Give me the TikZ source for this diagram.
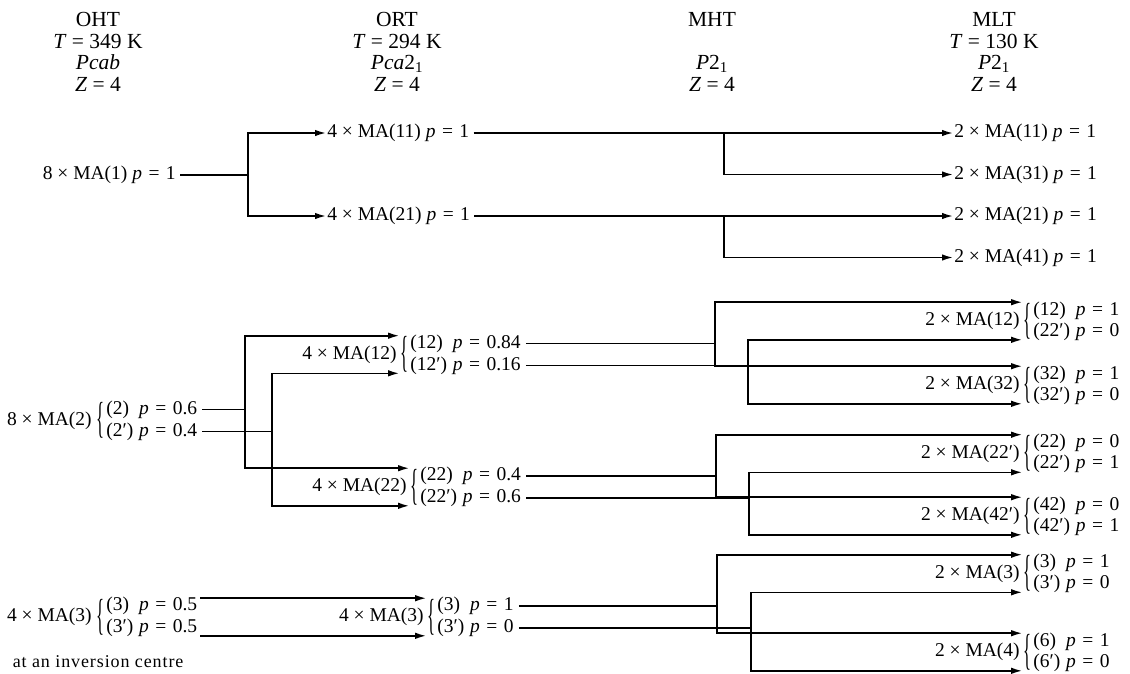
\documentclass[tikz,border=0pt]{standalone}
\usepackage{fontspec}
\setmainfont{Liberation Serif}
\usepackage{graphicx}
\usetikzlibrary{arrows.meta}

% p = value, with the wider spacing round the sign
\newcommand{\pe}[1]{\textit{p}\hspace{0.33em}=\hspace{0.33em}#1}
% one line of a split site: name, width of the longer name, probability
\newcommand{\rw}[3]{\rlap{#1}\phantom{#2}\hspace{0.3em}\pe{#3}}
% the curly bracket in front of two lines
\newcommand{\brc}{\resizebox*{8pt}{36pt}{\{}}

\begin{document}
\begin{tikzpicture}[x=1pt,y=-1pt,line width=1.6pt,
	lbl/.style={inner sep=0.5pt,text height=14pt,text depth=4.5pt,font=\fontsize{19.5}{22}\selectfont},
	hdr/.style={align=center,inner sep=0pt,font=\fontsize{21.5}{21.5}\selectfont},
	br/.style={inner sep=0pt,font=\fontsize{19.5}{22}\selectfont},
	arr/.style={-{Latex[length=11pt,width=6.5pt]}}]
	\useasboundingbox (0,0) rectangle (1130,673);

	% phases
	\node[hdr] (oht) at (98,52) {OHT\\\textit{T} = 349 K\\\textit{Pcab}\\\textit{Z} = 4};
	\node[hdr] (ort) at (397,52) {ORT\\\textit{T} = 294 K\\\textit{Pca}2\textsubscript{1}\\\textit{Z} = 4};
	\node[hdr] (mht) at (712,52) {MHT\\\mbox{}\\\textit{P}2\textsubscript{1}\\\textit{Z} = 4};
	\node[hdr] (mlt) at (994,52) {MLT\\\textit{T} = 130 K\\\textit{P}2\textsubscript{1}\\\textit{Z} = 4};

	% MA(1)
	\node[lbl,anchor=east] (ma1) at (177,175) {8 × MA(1) \pe{1}};
	\node[lbl,anchor=west] (ma11) at (326,133) {4 × MA(11) \pe{1}};
	\node[lbl,anchor=west] (ma21) at (326,216) {4 × MA(21) \pe{1}};
	\node[lbl,anchor=west] (mlt11) at (953,133) {2 × MA(11) \pe{1}};
	\node[lbl,anchor=west] (mlt31) at (953,174.5) {2 × MA(31) \pe{1}};
	\node[lbl,anchor=west] (mlt21) at (953,216) {2 × MA(21) \pe{1}};
	\node[lbl,anchor=west] (mlt41) at (953,257.5) {2 × MA(41) \pe{1}};
	\coordinate (s1) at (248,175);
	\coordinate (s11) at (724,133);
	\coordinate (s21) at (724,216);
	\draw[shorten <=3pt] (ma1) -- (s1);
	\draw[arr] (s1) |- (ma11);
	\draw[arr] (s1) |- (ma21);
	\draw[arr,shorten <=3pt] (ma11) -- (mlt11);
	\draw[arr] (s11) |- (mlt31);
	\draw[arr,shorten <=3pt] (ma21) -- (mlt21);
	\draw[arr] (s21) |- (mlt41);

	% MA(2)
	\node[lbl,anchor=east] (ma2) at (93,420.5) {8 × MA(2)};
	\node[br] (b2) at (100,420.5) {\brc};
	\node[lbl,anchor=west] (r2) at (105,409.5) {\rw{(2)}{(2′)}{0.6}};
	\node[lbl,anchor=west] (r2p) at (105,431.5) {\rw{(2′)}{(2′)}{0.4}};

	\node[lbl,anchor=east] (o12) at (398,354.5) {4 × MA(12)};
	\node[br] (bo12) at (404,354.5) {\brc};
	\node[lbl,anchor=west] (ro12) at (409,343.5) {\rw{(12)}{(12′)}{0.84}};
	\node[lbl,anchor=west] (ro12p) at (409,365.5) {\rw{(12′)}{(12′)}{0.16}};

	\node[lbl,anchor=east] (o22) at (408,487) {4 × MA(22)};
	\node[br] (bo22) at (414,487) {\brc};
	\node[lbl,anchor=west] (ro22) at (419,476) {\rw{(22)}{(22′)}{0.4}};
	\node[lbl,anchor=west] (ro22p) at (419,498) {\rw{(22′)}{(22′)}{0.6}};

	\node[lbl,anchor=east] (m12) at (1021,321) {2 × MA(12)};
	\node[br] (bm12) at (1027,321) {\brc};
	\node[lbl,anchor=west] (rm12) at (1032,310.5) {\rw{(12)}{(22′)}{1}};
	\node[lbl,anchor=west] (rm12p) at (1032,331.5) {\rw{(22′)}{(22′)}{0}};

	\node[lbl,anchor=east] (m32) at (1021,385) {2 × MA(32)};
	\node[br] (bm32) at (1027,385) {\brc};
	\node[lbl,anchor=west] (rm32) at (1032,374.5) {\rw{(32)}{(32′)}{1}};
	\node[lbl,anchor=west] (rm32p) at (1032,395.5) {\rw{(32′)}{(32′)}{0}};

	\node[lbl,anchor=east] (m22) at (1021,453.5) {2 × MA(22′)};
	\node[br] (bm22) at (1027,453.5) {\brc};
	\node[lbl,anchor=west] (rm22) at (1032,443) {\rw{(22)}{(22′)}{0}};
	\node[lbl,anchor=west] (rm22p) at (1032,464) {\rw{(22′)}{(22′)}{1}};

	\node[lbl,anchor=east] (m42) at (1021,516) {2 × MA(42′)};
	\node[br] (bm42) at (1027,516) {\brc};
	\node[lbl,anchor=west] (rm42) at (1032,505.5) {\rw{(42)}{(42′)}{0}};
	\node[lbl,anchor=west] (rm42p) at (1032,526.5) {\rw{(42′)}{(42′)}{1}};

	\coordinate (s2) at (245,409.5);
	\coordinate (s2p) at (272,431.5);
	\draw[shorten <=4pt] (r2) -- (s2);
	\draw[shorten <=4pt] (r2p) -- (s2p);
	\draw[arr] (s2) |- (bo12.north west);
	\draw[arr] (s2) |- (bo22.north west);
	\draw[arr] (s2p) |- (bo12.south west);
	\draw[arr] (s2p) |- (bo22.south west);

	\coordinate (s12) at (715,343.5);
	\coordinate (s12p) at (748,365.5);
	\draw[shorten <=4pt] (ro12) -- (s12);
	\draw[shorten <=4pt] (ro12p) -- (s12p);
	\draw[arr] (s12) |- (bm12.north west);
	\draw[arr] (s12) |- (bm32.north west);
	\draw[arr] (s12p) |- (bm12.south west);
	\draw[arr] (s12p) |- (bm32.south west);

	\coordinate (s22) at (716,476);
	\coordinate (s22p) at (749,498);
	\draw[shorten <=4pt] (ro22) -- (s22);
	\draw[shorten <=4pt] (ro22p) -- (s22p);
	\draw[arr] (s22) |- (bm22.north west);
	\draw[arr] (s22) |- (bm42.north west);
	\draw[arr] (s22p) |- (bm22.south west);
	\draw[arr] (s22p) |- (bm42.south west);

	% MA(3)
	\node[lbl,anchor=east] (ma3) at (93,617) {4 × MA(3)};
	\node[br] (b3) at (100,617) {\brc};
	\node[lbl,anchor=west] (r3) at (105,606) {\rw{(3)}{(3′)}{0.5}};
	\node[lbl,anchor=west] (r3p) at (105,628) {\rw{(3′)}{(3′)}{0.5}};

	\node[lbl,anchor=east] (o3) at (425,617) {4 × MA(3)};
	\node[br] (bo3) at (431,617) {\brc};
	\node[lbl,anchor=west] (ro3) at (436,606) {\rw{(3)}{(3′)}{1}};
	\node[lbl,anchor=west] (ro3p) at (436,628) {\rw{(3′)}{(3′)}{0}};

	\node[lbl,anchor=east] (m3) at (1021,573.5) {2 × MA(3)};
	\node[br] (bm3) at (1027,573.5) {\brc};
	\node[lbl,anchor=west] (rm3) at (1032,563) {\rw{(3)}{(3′)}{1}};
	\node[lbl,anchor=west] (rm3p) at (1032,584) {\rw{(3′)}{(3′)}{0}};

	\node[lbl,anchor=east] (m4) at (1021,652) {2 × MA(4)};
	\node[br] (bm4) at (1027,652) {\brc};
	\node[lbl,anchor=west] (rm6) at (1032,641.5) {\rw{(6)}{(6′)}{1}};
	\node[lbl,anchor=west] (rm6p) at (1032,662.5) {\rw{(6′)}{(6′)}{0}};

	\draw[arr,shorten <=2pt] (r3.east |- bo3.north west) -- (bo3.north west);
	\draw[arr,shorten <=2pt] (r3p.east |- bo3.south west) -- (bo3.south west);

	\coordinate (s3) at (717,606);
	\coordinate (s3p) at (751,628);
	\draw[shorten <=4pt] (ro3) -- (s3);
	\draw[shorten <=4pt] (ro3p) -- (s3p);
	\draw[arr] (s3) |- (bm3.north west);
	\draw[arr] (s3) |- (bm4.north west);
	\draw[arr] (s3p) |- (bm3.south west);
	\draw[arr] (s3p) |- (bm4.south west);

	\node[anchor=west,inner sep=0pt,font=\fontsize{18}{20}\selectfont\addfontfeatures{LetterSpace=5}] (note) at (12,662) {at an inversion centre};
\end{tikzpicture}
\end{document}
